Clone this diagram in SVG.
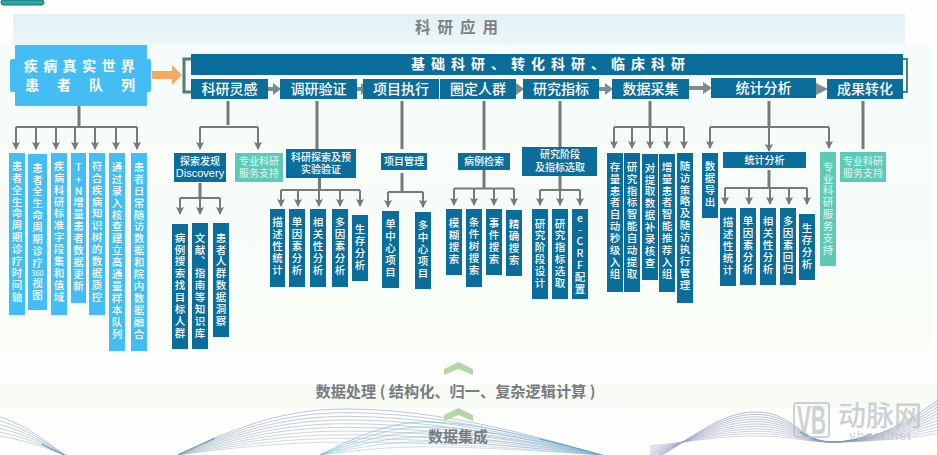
<svg xmlns="http://www.w3.org/2000/svg" width="938" height="455" viewBox="0 0 938 455">
<style>
text{font-family:"Noto Sans CJK SC","Liberation Sans",sans-serif;text-anchor:middle;fill:#fff}
.v{writing-mode:vertical-rl;text-orientation:upright;font-size:10.500px;letter-spacing:1.400px;font-weight:500}
.h{font-size:10px;font-weight:500}
.r{font-size:14px;font-weight:500}
.d{fill:#0b6d9a}.l{fill:#44bdf5}.t{fill:#5ec9b4}
.tt{fill:#d3f1ea}
.trunk{fill:none;stroke:#77797a;stroke-width:3}
.bus{fill:none;stroke:#77797a;stroke-width:2}
.drop{fill:none;stroke:#77797a;stroke-width:2;marker-end:url(#ah)}
.fat{fill:#7f8a8e}
.w{fill:none;stroke-width:.7;vector-effect:non-scaling-stroke}
</style>
<defs>
<marker id="ah" markerUnits="userSpaceOnUse" markerWidth="9" markerHeight="9" refX="7" refY="4.500" orient="auto"><path d="M0 0.500L8 4.500L0 8.500L1.500 4.500Z" fill="#77797a"/></marker>
<linearGradient id="top" x1="0" y1="0" x2="0" y2="1"><stop offset="0" stop-color="#e2f1f4"/><stop offset="1" stop-color="#ecf6f6"/></linearGradient>
<linearGradient id="body" x1="0" y1="0" x2="0" y2="1"><stop offset="0" stop-color="#f6fcfb"/><stop offset=".9" stop-color="#f9fcf7"/><stop offset="1" stop-color="#fefefc"/></linearGradient>
<path id="wm" d="M178 455C230 430 280 409 345 409C420 409 500 425 600 455"/>
<path id="wl" d="M0 417C30 427 50 445 65 455"/>
<path id="wc" d="M320 455C360 435 390 422 425 422C480 422 540 440 603 455"/>
<path id="wr" d="M650 462C690 440 720 412 755 412C795 412 800 442 832 442C870 442 905 425 938 400"/>
</defs>
<rect width="938" height="455" fill="#fefefc"/>
<rect x="0" y="45" width="932" height="318" fill="url(#body)"/>
<rect x="13" y="14" width="892" height="31" fill="url(#top)"/>
<rect x="0" y="385" width="938" height="23" fill="#f8faf4"/>
<rect x="937" y="0" width="1" height="455" fill="#c9c9c9"/>
<rect x="1" y="0" width="43" height="5" rx="2.500" fill="#2aa7a7" stroke="#176b70"/>
<g id="waves">
<g stroke="#9fb0c2">
<use href="#wm" class="w"/><use href="#wm" class="w" transform="matrix(1 0 0 .92 0 36.400)"/><use href="#wm" class="w" transform="matrix(1 0 0 .84 0 72.800)"/><use href="#wm" class="w" transform="matrix(1 0 0 .76 0 109.200)"/><use href="#wm" class="w" transform="matrix(1 0 0 .68 0 145.600)"/><use href="#wm" class="w" transform="matrix(1 0 0 .6 0 182)"/><use href="#wm" class="w" transform="matrix(1 0 0 .52 0 218.400)"/><use href="#wm" class="w" transform="matrix(1 0 0 .44 0 254.800)"/><use href="#wm" class="w" transform="matrix(1 0 0 .36 0 291.200)"/><use href="#wm" class="w" transform="matrix(1 0 0 .28 0 327.600)"/>
<use href="#wl" class="w"/><use href="#wl" class="w" transform="matrix(1 0 0 .9 0 45.500)"/><use href="#wl" class="w" transform="matrix(1 0 0 .8 0 91)"/><use href="#wl" class="w" transform="matrix(1 0 0 .7 0 136.500)"/><use href="#wl" class="w" transform="matrix(1 0 0 .6 0 182)"/><use href="#wl" class="w" transform="matrix(1 0 0 .5 0 227.500)"/>
</g>
<g stroke="#7fbbdc">
<use href="#wc" class="w"/><use href="#wc" class="w" transform="matrix(1 0 0 .85 0 68.250)"/><use href="#wc" class="w" transform="matrix(1 0 0 .7 0 136.500)"/><use href="#wc" class="w" transform="matrix(1 0 0 .55 0 204.750)"/><use href="#wc" class="w" transform="matrix(1 0 0 .4 0 273)"/><use href="#wc" class="w" transform="matrix(1 0 0 .25 0 341.250)"/>
</g>
<g stroke="#9aa1c2">
<use href="#wr" class="w"/><use href="#wr" class="w" transform="matrix(1 0 0 .92 0 35.360)"/><use href="#wr" class="w" transform="matrix(1 0 0 .84 0 70.720)"/><use href="#wr" class="w" transform="matrix(1 0 0 .76 0 106.080)"/><use href="#wr" class="w" transform="matrix(1 0 0 .68 0 141.440)"/><use href="#wr" class="w" transform="matrix(1 0 0 .6 0 176.800)"/><use href="#wr" class="w" transform="matrix(1 0 0 .52 0 212.160)"/><use href="#wr" class="w" transform="matrix(1 0 0 .44 0 247.520)"/><use href="#wr" class="w" transform="matrix(1 0 0 .36 0 282.880)"/><use href="#wr" class="w" transform="matrix(1 0 0 .28 0 318.240)"/><use href="#wr" class="w" transform="matrix(1 0 0 .2 0 353.600)"/>
</g>
<path d="M42 444C50 449 58 452 65 455M178 455C190 449 205 443 215 438M540 439C565 445 585 450 600 455M800 432C812 440 822 442 832 442C845 442 860 439 872 434" fill="none" stroke="#5f9fc6" stroke-width="1.200"/>
</g>
<g id="watermark" opacity=".75">
<rect x="794" y="403" width="35" height="34" rx="3" fill="none" stroke="#bcc3c3" stroke-width="2"/>
<text x="811.500" y="433.500" style="font-size:40px;font-weight:700;fill:#bcc3c3;font-family:'Liberation Sans',sans-serif" textLength="29" lengthAdjust="spacingAndGlyphs">VB</text>
<text x="880" style="fill:#bcc3c3"><tspan x="880" y="426" style="font-size:28px;font-weight:500">动脉网</tspan><tspan x="881" y="440" style="font-size:12px;letter-spacing:1.500px;font-family:'Liberation Sans',sans-serif">vbeat.net</tspan></text>
</g>
<g id="connectors">
<path class="trunk" d="M79 106V127M228 101V125M200 183V198M317 101V149M319.500 178V190M402 101V149M402 173V192M484 101V150M484 170V188M560 101V147M560 176V190M650 101V127M769 101V127M769 170V188M863 101V149"/>
<path class="bus" d="M16 127H137M200 127H258M180 198H220M281 190H360M388 192H423M454 188.500H514M540 190H580M614 127H684M710 127H829M725 188H807"/>
<path class="drop" d="M16 127V149"/><path class="drop" d="M36 127V149"/><path class="drop" d="M56 127V149"/><path class="drop" d="M75 127V149"/><path class="drop" d="M95 127V149"/><path class="drop" d="M116 127V149"/><path class="drop" d="M137 127V149"/>
<path class="drop" d="M200 127V149"/><path class="drop" d="M258 127V149"/>
<path class="drop" d="M180 198V214"/><path class="drop" d="M200 198V214"/><path class="drop" d="M220 198V214"/>
<path class="drop" d="M281 190V206"/><path class="drop" d="M298 190V206"/><path class="drop" d="M319 190V206"/><path class="drop" d="M340 190V206"/><path class="drop" d="M360 190V206"/>
<path class="drop" d="M388 192V207"/><path class="drop" d="M423 192V207"/>
<path class="drop" d="M454 188.500V205"/><path class="drop" d="M474 188.500V205"/><path class="drop" d="M494 188.500V205"/><path class="drop" d="M514 188.500V205"/>
<path class="drop" d="M540 190V205"/><path class="drop" d="M560 190V205"/><path class="drop" d="M580 190V205"/>
<path class="drop" d="M614 127V148"/><path class="drop" d="M632 127V148"/><path class="drop" d="M650 127V148"/><path class="drop" d="M667 127V148"/><path class="drop" d="M684 127V148"/>
<path class="drop" d="M710 127V148"/><path class="drop" d="M769 127V151"/><path class="drop" d="M829 127V148"/>
<path class="drop" d="M725 188V204"/><path class="drop" d="M749 188V204"/><path class="drop" d="M770 188V204"/><path class="drop" d="M789 188V204"/><path class="drop" d="M807 188V204"/>
<path id="orange" d="M152 71H172V65L182 75L172 85V79H152Z" fill="#f4a862"/>
<path d="M191 59H184V92H191" fill="none" stroke="#4f7d7c" stroke-width="3"/>
<path d="M903 59H907V92H903" fill="none" stroke="#4f7d7c" stroke-width="2"/>
<path class="fat" d="M268 87H273V83L281 89L273 95V91H268Z"/>
<path class="fat" d="M357 87H361V83L368 89L361 95V91H357Z"/>
<path class="fat" d="M440 85L446 89L440 93Z"/>
<path class="fat" d="M508 87H516V83L524 89L516 95V91H508Z"/>
<path class="fat" d="M599 87H605V83L613 89L605 95V91H599Z"/>
<path class="fat" d="M689 86H703V82L712 88L703 94V90H689Z"/>
<path class="fat" d="M816 83L828 89L816 95Z"/>
</g>
<g id="title"><text x="460" y="33" style="font-size:15.500px;font-weight:700;letter-spacing:7px;fill:#7b8083">科研应用</text></g>
<g id="source"><rect x="10" y="59" width="8" height="33" rx="2" class="l"/><rect x="144" y="59" width="7" height="33" rx="2" class="l"/><rect x="15" y="45" width="132" height="61" rx="1" class="l"/><text style="font-size:14px;font-weight:700"><tspan x="82" y="71" style="letter-spacing:5.400px">疾病真实世界</tspan><tspan x="89" y="90" style="letter-spacing:18px">患者队列</tspan></text></g>
<g id="topbar"><rect x="191" y="54" width="712" height="21" class="d"/><text x="551" y="69" style="font-size:14px;font-weight:700;letter-spacing:6px">基础科研、转化科研、临床科研</text></g>
<g id="s1"><rect x="191" y="79" width="77" height="20" class="d"/><text class="r" x="229.500" y="94">科研灵感</text></g>
<g id="s2"><rect x="280" y="79" width="77" height="20" class="d"/><text class="r" x="318.500" y="94">调研验证</text></g>
<g id="s3"><rect x="363" y="79" width="76" height="20" class="d"/><text class="r" x="401" y="94">项目执行</text></g>
<g id="s4"><rect x="440" y="79" width="76" height="20" class="d"/><text class="r" x="478" y="94">圈定人群</text></g>
<g id="s5"><rect x="523" y="79" width="76" height="20" class="d"/><text class="r" x="561" y="94">研究指标</text></g>
<g id="s6"><rect x="612" y="79" width="77" height="20" class="d"/><text class="r" x="650.500" y="94">数据采集</text></g>
<g id="s7"><rect x="711" y="78" width="105" height="20" class="d"/><text class="r" x="763.500" y="93">统计分析</text></g>
<g id="s8"><rect x="827" y="79" width="76" height="20" class="d"/><text class="r" x="865" y="94">成果转化</text></g>
<g id="a1"><rect x="9" y="153" width="16" height="162" class="l"/><text class="v" x="17" y="232">患者全生命周期诊疗时间轴</text></g>
<g id="a2"><rect x="28" y="154" width="19" height="156" class="l"/><text class="v" x="37.500" y="216">患者全生命周期诊疗</text><text x="37.500" y="276" style="font-size:7.500px">360</text><text class="v" x="37.500" y="290">视图</text></g>
<g id="a3"><rect x="51" y="153" width="16" height="162" class="l"/><text class="v" x="59" y="232">疾病科研标准字段集和值域</text></g>
<g id="a4"><rect x="71" y="153" width="15" height="150" class="l"/><text class="v" x="78.500" y="227">T+N增量患者数据更新</text></g>
<g id="a5"><rect x="89" y="153" width="16" height="162" class="l"/><text class="v" x="97" y="232">符合疾病知识树的数据质控</text></g>
<g id="a6"><rect x="109" y="153" width="16" height="198" class="l"/><text class="v" x="117" y="251">通过录入核查建立高通量样本队列</text></g>
<g id="a7"><rect x="131" y="153" width="16" height="198" class="l"/><text class="v" x="139" y="251">患者日常随访数据和院内数据融合</text></g>
<g id="b1"><rect x="174" y="153" width="52" height="29" class="d"/><text class="h"><tspan x="200" y="164.500">探索发现</tspan><tspan x="200" y="177" style="font-size:11px;font-family:'Liberation Sans',sans-serif">Discovery</tspan></text></g>
<g id="b2"><rect x="235" y="153" width="48" height="29" class="t"/><text class="h tt"><tspan x="259" y="165">专业科研</tspan><tspan x="259" y="177">服务支持</tspan></text></g>
<g id="b3"><rect x="172" y="224" width="16" height="125" class="d"/><text class="v" x="180" y="286">病例搜索找目标人群</text></g>
<g id="b4"><rect x="192" y="223" width="16" height="126" class="d"/><text class="v" x="200" y="286">文献、指南等知识库</text></g>
<g id="b5"><rect x="213" y="223" width="16" height="114" class="d"/><text class="v" x="221" y="280">患者人群数据洞察</text></g>
<g id="c0"><rect x="286" y="149" width="70" height="29" class="d"/><text class="h"><tspan x="321" y="161">科研探索及预</tspan><tspan x="321" y="173">实验验证</tspan></text></g>
<g id="c1"><rect x="270" y="209" width="15" height="78" class="d"/><text class="v" x="277.500" y="247">描述性统计</text></g>
<g id="c2"><rect x="289" y="209" width="16" height="78" class="d"/><text class="v" x="297" y="247">单因素分析</text></g>
<g id="c3"><rect x="310" y="209" width="16" height="78" class="d"/><text class="v" x="318" y="247">相关性分析</text></g>
<g id="c4"><rect x="332" y="209" width="16" height="78" class="d"/><text class="v" x="340" y="247">多因素分析</text></g>
<g id="c5"><rect x="352" y="215" width="16" height="66" class="d"/><text class="v" x="360" y="248">生存分析</text></g>
<g id="e0"><rect x="381" y="153" width="46" height="17" class="d"/><text class="h" x="404" y="165">项目管理</text></g>
<g id="e1"><rect x="382" y="211" width="17" height="77" class="d"/><text class="v" x="390.500" y="249">单中心项目</text></g>
<g id="e2"><rect x="415" y="212" width="16" height="77" class="d"/><text class="v" x="423" y="250">多中心项目</text></g>
<g id="f0"><rect x="458" y="153" width="52" height="17" class="d"/><text class="h" x="484" y="165">病例检索</text></g>
<g id="f1"><rect x="446" y="209" width="16" height="66" class="d"/><text class="v" x="454" y="242">模糊搜索</text></g>
<g id="f2"><rect x="466" y="209" width="16" height="78" class="d"/><text class="v" x="474" y="247">条件树搜索</text></g>
<g id="f3"><rect x="486" y="209" width="16" height="66" class="d"/><text class="v" x="494" y="242">事件搜索</text></g>
<g id="f4"><rect x="506" y="210" width="16" height="66" class="d"/><text class="v" x="514" y="243">精确搜索</text></g>
<g id="g0"><rect x="522" y="147" width="75" height="29" class="d"/><text class="h"><tspan x="560" y="158">研究阶段</tspan><tspan x="560" y="171">及指标选取</tspan></text></g>
<g id="g1"><rect x="532" y="209" width="16" height="90" class="d"/><text class="v" x="540" y="254">研究阶段设计</text></g>
<g id="g2"><rect x="552" y="209" width="16" height="90" class="d"/><text class="v" x="560" y="254">研究指标选取</text></g>
<g id="g3"><rect x="572" y="209" width="16" height="90" class="d"/><text class="v" x="580" y="254">e-CRF配置</text></g>
<g id="h1"><rect x="607" y="153" width="16" height="139" class="d"/><text class="v" x="615" y="221">存量患者自动秒级入组</text></g>
<g id="h2"><rect x="624" y="153" width="16" height="139" class="d"/><text class="v" x="632" y="221">研究指标智能自动提取</text></g>
<g id="h3"><rect x="642" y="154" width="16" height="126" class="d"/><text class="v" x="650" y="216">对提取数据补录核查</text></g>
<g id="h4"><rect x="659" y="154" width="16" height="138" class="d"/><text class="v" x="667" y="221">增量患者智能推荐入组</text></g>
<g id="h5"><rect x="677" y="153" width="16" height="150" class="d"/><text class="v" x="685" y="226">随访策略及随访执行管理</text></g>
<g id="i1"><rect x="702" y="153" width="16" height="65" class="d"/><text class="v" x="710" y="185">数据导出</text></g>
<g id="i0"><rect x="723" y="152" width="83" height="16" class="d"/><text class="h" x="764.500" y="164">统计分析</text></g>
<g id="i2"><rect x="820" y="152" width="16" height="114" class="t"/><text class="v tt" x="828" y="209">专业科研服务支持</text></g>
<g id="j1"><rect x="720" y="208" width="16" height="78" class="d"/><text class="v" x="728" y="247">描述性统计</text></g>
<g id="j2"><rect x="740" y="208" width="16" height="77" class="d"/><text class="v" x="748" y="246">单因素分析</text></g>
<g id="j3"><rect x="760" y="208" width="16" height="77" class="d"/><text class="v" x="768" y="246">相关性分析</text></g>
<g id="j4"><rect x="780" y="208" width="16" height="77" class="d"/><text class="v" x="788" y="246">多因素回归</text></g>
<g id="j5"><rect x="799" y="214" width="16" height="66" class="d"/><text class="v" x="807" y="247">生存分析</text></g>
<g id="k1"><rect x="840" y="152" width="46" height="30" class="t"/><text class="h tt"><tspan x="863" y="165">专业科研</tspan><tspan x="863" y="177">服务支持</tspan></text></g>
<g id="bottom">
<path d="M444 375V369L458.500 362L473 369V375L458.500 369Z" fill="#b5d7a6"/>
<path d="M444 421V415L458.500 408L473 415V421L458.500 415Z" fill="#b5d7a6"/>
<text x="455.500" y="397" style="font-size:15.200px;font-weight:700;fill:#777c80">数据处理 ( 结构化、归一、复杂逻辑计算 )</text>
<text x="458" y="442" style="font-size:15px;font-weight:700;fill:#777c80">数据集成</text>
</g>
</svg>
